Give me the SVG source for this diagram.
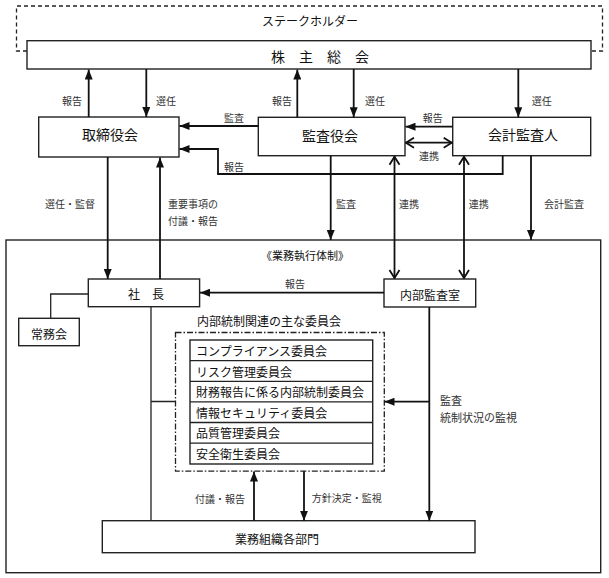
<svg xmlns="http://www.w3.org/2000/svg" width="609" height="578" viewBox="0 0 609 578">
<style>
text{font-family:"Noto Sans CJK JP","Noto Sans CJK SC",sans-serif;fill:#111;dominant-baseline:central}
.c{text-anchor:middle}
.big{font-size:14px}
.mid{font-size:12px}
.sm{font-size:10px;fill:#333}
.box{fill:#fff;stroke:#222;stroke-width:1.4}
.ln{fill:none;stroke:#111;stroke-width:1.8}
.thin{fill:none;stroke:#222;stroke-width:1.3}
.arr{marker-end:url(#ah)}
.dbl{marker-start:url(#oa);marker-end:url(#oa)}
</style>
<defs>
<marker id="ah" viewBox="0 0 10 8" refX="10" refY="4" markerWidth="10" markerHeight="8" markerUnits="userSpaceOnUse" orient="auto"><path d="M0,0 L10,4 L0,8z" fill="#111"/></marker>
<marker id="oa" viewBox="0 0 10 12" refX="9.5" refY="6" markerWidth="10" markerHeight="12" markerUnits="userSpaceOnUse" orient="auto-start-reverse"><path d="M1,1 L9,6 L1,11" fill="none" stroke="#111" stroke-width="1.8"/></marker>
</defs>

<g id="stakeholder">
<path d="M27,51 H16.5 V6 H602.5 V51 H591" fill="none" stroke="#222" stroke-width="1.3" stroke-dasharray="4,3"/>
<text class="c mid" x="310" y="20">ステークホルダー</text>
</g>
<g id="shareholders">
<rect class="box" x="27" y="40.7" width="564" height="28.3"/>
<text class="c big" x="320" y="55.5">株　主　総　会</text>
</g>
<g id="board">
<rect class="box" x="38.7" y="117" width="140.3" height="40"/>
<text class="c big" x="110" y="134">取締役会</text>
</g>
<g id="auditors">
<rect class="box" x="258.3" y="117.3" width="146.7" height="38.4"/>
<text class="c big" x="330" y="135">監査役会</text>
</g>
<g id="accountant">
<rect class="box" x="452.7" y="117.3" width="138" height="38.4"/>
<text class="c big" x="523" y="134">会計監査人</text>
</g>
<g id="execution">
<rect x="6" y="240" width="594.7" height="332.7" fill="none" stroke="#222" stroke-width="1.4"/>
<text class="c" style="font-size:11px" x="305" y="255">《業務執行体制》</text>
</g>
<g id="president">
<rect class="box" x="88.3" y="279" width="111.3" height="27.7"/>
<text class="c mid" x="146" y="293">社　長</text>
</g>
<g id="internal-audit">
<rect class="box" x="384" y="279" width="91.7" height="28"/>
<text class="c mid" x="430" y="294">内部監査室</text>
</g>
<g id="executive">
<rect class="box" x="18.7" y="318.3" width="60.6" height="27.4"/>
<text class="c mid" x="49" y="333">常務会</text>
</g>
<g id="committees">
<text class="c mid" x="269" y="320">内部統制関連の主な委員会</text>
<rect x="175.5" y="332.5" width="208.8" height="138.7" fill="none" stroke="#222" stroke-width="1.3" stroke-dasharray="6,2,1.5,2"/>
<rect class="box" x="190" y="340" width="182.7" height="124"/>
<path class="thin" d="M190,360.7 H372.7 M190,381.3 H372.7 M190,401.8 H372.7 M190,422.5 H372.7 M190,443.2 H372.7"/>
<text class="mid" x="196" y="350.5">コンプライアンス委員会</text>
<text class="mid" x="196" y="371">リスク管理委員会</text>
<text class="mid" x="196" y="391.6">財務報告に係る内部統制委員会</text>
<text class="mid" x="196" y="412.2">情報セキュリティ委員会</text>
<text class="mid" x="196" y="432.9">品質管理委員会</text>
<text class="mid" x="196" y="453.6">安全衛生委員会</text>
</g>
<g id="departments">
<rect class="box" x="102.3" y="520.7" width="372.7" height="32"/>
<text class="c mid" x="277" y="538">業務組織各部門</text>
</g>

<g id="connectors">
<path class="ln arr" d="M88.7,117 V69.5"/>
<path class="ln arr" d="M146.3,69 V117"/>
<path class="ln arr" d="M297.3,117.3 V69.5"/>
<path class="ln arr" d="M353.7,69 V117.3"/>
<path class="ln arr" d="M518.3,69 V117.3"/>
<path class="ln arr" d="M258.3,126 H179.5"/>
<path class="ln arr" d="M452.7,126.7 H405.5"/>
<path class="ln dbl" d="M405.5,142.7 H452.2"/>
<path class="ln arr" d="M502.7,155.7 V174 H218 V149 H179.5"/>
<path class="ln arr" d="M107.7,157 V279"/>
<path class="ln arr" d="M160,279 V157.5"/>
<path class="ln arr" d="M330.7,155.7 V240"/>
<path class="ln dbl" d="M394.5,156.2 V278.5"/>
<path class="ln dbl" d="M464,156.2 V278.5"/>
<path class="ln arr" d="M531,155.7 V240"/>
<path class="ln arr" d="M384,292.7 H200"/>
<path class="thin" d="M88.3,294 H50.7 V318.3"/>
<path class="thin" d="M151,306.7 V520.7 M151,401.5 H175.5"/>
<path class="ln arr" d="M429.3,307 V520.7"/>
<path class="ln arr" d="M429.3,401.7 H384.5"/>
<path class="ln arr" d="M254,520.7 V471.5"/>
<path class="ln arr" d="M304,471.2 V520.7"/>
</g>

<g id="labels">
<text class="c sm" x="72" y="100">報告</text>
<text class="c sm" x="166" y="100">選任</text>
<text class="c sm" x="282" y="100">報告</text>
<text class="c sm" x="375" y="100">選任</text>
<text class="c sm" x="541.7" y="100">選任</text>
<text class="c sm" x="234" y="117">監査</text>
<text class="c sm" x="432.7" y="117">報告</text>
<text class="c sm" x="429" y="155">連携</text>
<text class="c sm" x="234" y="166">報告</text>
<text class="c sm" x="70" y="203">選任・監督</text>
<text class="sm" x="168" y="203">重要事項の</text>
<text class="sm" x="168" y="220.7">付議・報告</text>
<text class="c sm" x="346" y="203">監査</text>
<text class="c sm" x="409" y="203">連携</text>
<text class="c sm" x="478.7" y="203">連携</text>
<text class="c sm" x="564" y="203">会計監査</text>
<text class="c sm" x="295" y="283">報告</text>
<text class="sm" style="font-size:11px" x="440" y="400">監査</text>
<text class="sm" style="font-size:11px" x="440" y="417">統制状況の監視</text>
<text class="c sm" x="220" y="498">付議・報告</text>
<text class="c sm" x="346.7" y="497">方針決定・監視</text>
</g>
</svg>
